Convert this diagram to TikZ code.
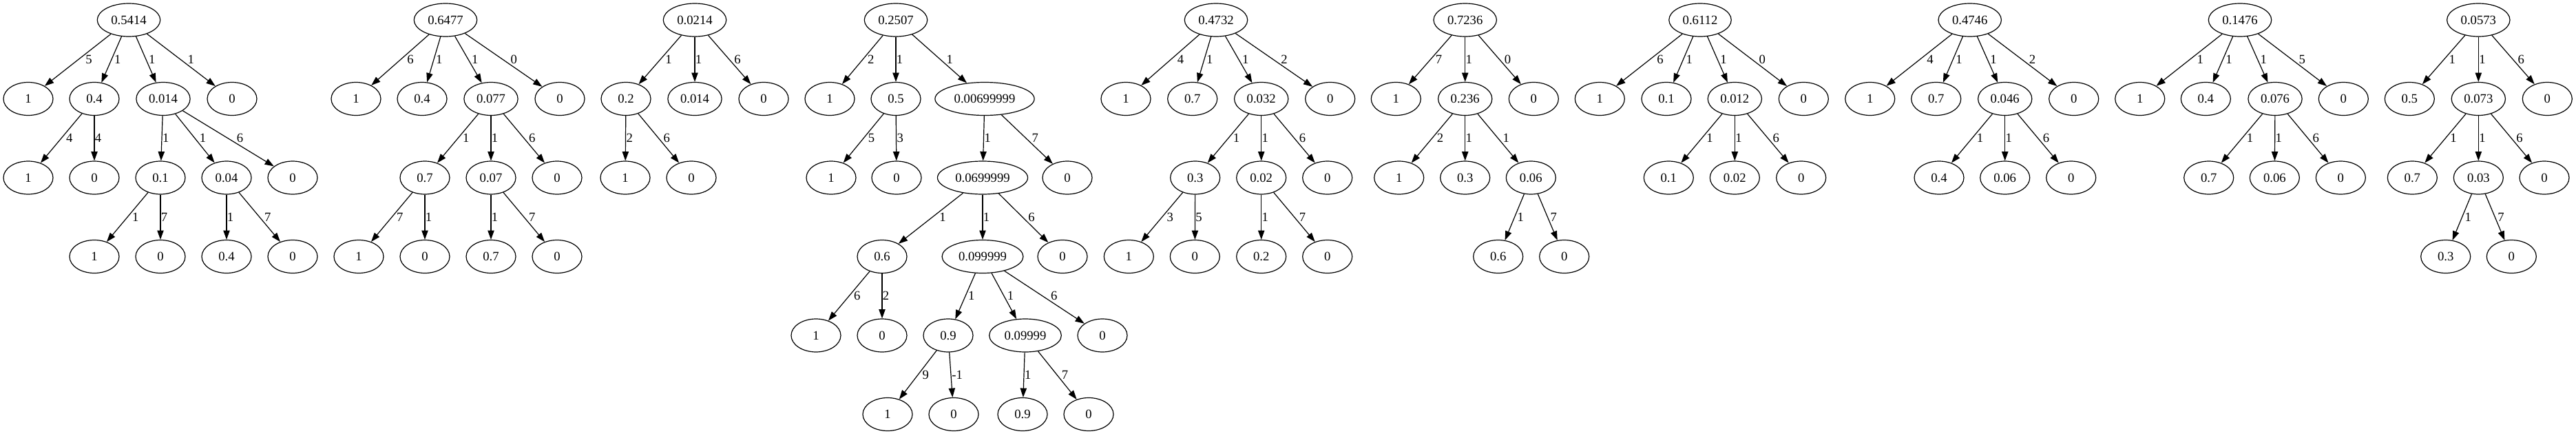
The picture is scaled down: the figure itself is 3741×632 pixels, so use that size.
\documentclass[tikz,border=0pt]{standalone}
\usepackage{fontspec}
\setmainfont{Liberation Serif}
\usetikzlibrary{shapes.geometric,arrows.meta,calc}
\newdimen\edgax \newdimen\edgay \newdimen\edgbx \newdimen\edgby
\tikzset{
  nd/.style={ellipse, draw, line width=0.9pt, minimum width=54pt, minimum height=36pt,
    inner xsep=5pt, inner ysep=0pt, font=\fontsize{14pt}{16pt}\selectfont},
  edgeline/.style={line width=0.9pt, -{Triangle[length=10pt,width=7pt]}},
  elabel/.style={anchor=west, inner sep=0.5pt, font=\fontsize{14pt}{16pt}\selectfont}
}
\newcommand\edg[3]{%
  \draw[edgeline] (#1) -- (#2);
  \pgfextractx{\edgax}{\pgfpointanchor{#1}{center}}%
  \pgfextracty{\edgay}{\pgfpointanchor{#1}{center}}%
  \pgfextractx{\edgbx}{\pgfpointanchor{#2}{center}}%
  \pgfextracty{\edgby}{\pgfpointanchor{#2}{center}}%
  \pgfmathsetlengthmacro\edgsh{5.5*abs(\edgbx-\edgax)/abs(\edgby-\edgay)}%
  \node[elabel, xshift=\edgsh] at ($(#1)!0.5!(#2)$) {#3};
}
\def\RA{29}\def\RB{143.5}\def\RC{258}\def\RD{372.5}\def\RE{487}\def\RF{601.5}
\begin{document}
\begin{tikzpicture}[x=0.75pt, y=-0.75pt]
\useasboundingbox (0,0) rectangle (3741,632);
% Tree 1
\node[nd] (a0) at (187,\RA) {0.5414};
\node[nd] (a1) at (41,\RB) {1};
\node[nd] (a2) at (137,\RB) {0.4};
\node[nd] (a3) at (237,\RB) {0.014};
\node[nd] (a4) at (337,\RB) {0};
\node[nd] (a21) at (41,\RC) {1};
\node[nd] (a22) at (137,\RC) {0};
\node[nd] (a31) at (233,\RC) {0.1};
\node[nd] (a32) at (329,\RC) {0.04};
\node[nd] (a33) at (425,\RC) {0};
\node[nd] (a311) at (137,\RD) {1};
\node[nd] (a312) at (233,\RD) {0};
\node[nd] (a321) at (329,\RD) {0.4};
\node[nd] (a322) at (425,\RD) {0};
\edg{a0}{a1}{5}\edg{a0}{a2}{1}\edg{a0}{a3}{1}\edg{a0}{a4}{1}
\edg{a2}{a21}{4}\edg{a2}{a22}{4}
\edg{a3}{a31}{1}\edg{a3}{a32}{1}\edg{a3}{a33}{6}
\edg{a31}{a311}{1}\edg{a31}{a312}{7}
\edg{a32}{a321}{1}\edg{a32}{a322}{7}
% Tree 2
\node[nd] (b0) at (647,\RA) {0.6477};
\node[nd] (b1) at (517,\RB) {1};
\node[nd] (b2) at (613,\RB) {0.4};
\node[nd] (b3) at (713,\RB) {0.077};
\node[nd] (b4) at (813,\RB) {0};
\node[nd] (b31) at (617,\RC) {0.7};
\node[nd] (b32) at (713,\RC) {0.07};
\node[nd] (b33) at (809,\RC) {0};
\node[nd] (b311) at (521,\RD) {1};
\node[nd] (b312) at (617,\RD) {0};
\node[nd] (b321) at (713,\RD) {0.7};
\node[nd] (b322) at (809,\RD) {0};
\edg{b0}{b1}{6}\edg{b0}{b2}{1}\edg{b0}{b3}{1}\edg{b0}{b4}{0}
\edg{b3}{b31}{1}\edg{b3}{b32}{1}\edg{b3}{b33}{6}
\edg{b31}{b311}{7}\edg{b31}{b312}{1}
\edg{b32}{b321}{1}\edg{b32}{b322}{7}
% Tree 3
\node[nd] (c0) at (1009,\RA) {0.0214};
\node[nd] (c1) at (909,\RB) {0.2};
\node[nd] (c2) at (1009,\RB) {0.014};
\node[nd] (c3) at (1109,\RB) {0};
\node[nd] (c11) at (908,\RC) {1};
\node[nd] (c12) at (1004,\RC) {0};
\edg{c0}{c1}{1}\edg{c0}{c2}{1}\edg{c0}{c3}{6}
\edg{c1}{c11}{2}\edg{c1}{c12}{6}
% Tree 4
\node[nd] (d0) at (1301,\RA) {0.2507};
\node[nd] (d1) at (1205,\RB) {1};
\node[nd] (d2) at (1301,\RB) {0.5};
\node[nd] (d3) at (1430,\RB) {0.00699999};
\node[nd] (d21) at (1207,\RC) {1};
\node[nd] (d22) at (1302,\RC) {0};
\node[nd] (d31) at (1427,\RC) {0.0699999};
\node[nd] (d32) at (1550,\RC) {0};
\node[nd] (d311) at (1281,\RD) {0.6};
\node[nd] (d312) at (1427,\RD) {0.099999};
\node[nd] (d313) at (1543,\RD) {0};
\node[nd] (d3111) at (1185,\RE) {1};
\node[nd] (d3112) at (1281,\RE) {0};
\node[nd] (d3121) at (1377,\RE) {0.9};
\node[nd] (d3122) at (1489,\RE) {0.09999};
\node[nd] (d3123) at (1601,\RE) {0};
\node[nd] (d31211) at (1289,\RF) {1};
\node[nd] (d31212) at (1385,\RF) {0};
\node[nd] (d31221) at (1485,\RF) {0.9};
\node[nd] (d31222) at (1581,\RF) {0};
\edg{d0}{d1}{2}\edg{d0}{d2}{1}\edg{d0}{d3}{1}
\edg{d2}{d21}{5}\edg{d2}{d22}{3}
\edg{d3}{d31}{1}\edg{d3}{d32}{7}
\edg{d31}{d311}{1}\edg{d31}{d312}{1}\edg{d31}{d313}{6}
\edg{d311}{d3111}{6}\edg{d311}{d3112}{2}
\edg{d312}{d3121}{1}\edg{d312}{d3122}{1}\edg{d312}{d3123}{6}
\edg{d3121}{d31211}{9}\edg{d3121}{d31212}{-1}
\edg{d3122}{d31221}{1}\edg{d3122}{d31222}{7}
% Tree 5
\node[nd] (e0) at (1766,\RA) {0.4732};
\node[nd] (e1) at (1635,\RB) {1};
\node[nd] (e2) at (1731.7,\RB) {0.7};
\node[nd] (e3) at (1831.7,\RB) {0.032};
\node[nd] (e4) at (1931.7,\RB) {0};
\node[nd] (e31) at (1735.7,\RC) {0.3};
\node[nd] (e32) at (1831.7,\RC) {0.02};
\node[nd] (e33) at (1927.7,\RC) {0};
\node[nd] (e311) at (1639.3,\RD) {1};
\node[nd] (e312) at (1735.3,\RD) {0};
\node[nd] (e321) at (1831.7,\RD) {0.2};
\node[nd] (e322) at (1927.7,\RD) {0};
\edg{e0}{e1}{4}\edg{e0}{e2}{1}\edg{e0}{e3}{1}\edg{e0}{e4}{2}
\edg{e3}{e31}{1}\edg{e3}{e32}{1}\edg{e3}{e33}{6}
\edg{e31}{e311}{3}\edg{e31}{e312}{5}
\edg{e32}{e321}{1}\edg{e32}{e322}{7}
% Tree 6
\node[nd] (f0) at (2127.7,\RA) {0.7236};
\node[nd] (f1) at (2027.3,\RB) {1};
\node[nd] (f2) at (2127.7,\RB) {0.236};
\node[nd] (f3) at (2227.3,\RB) {0};
\node[nd] (f21) at (2031.7,\RC) {1};
\node[nd] (f22) at (2127.7,\RC) {0.3};
\node[nd] (f23) at (2223.3,\RC) {0.06};
\node[nd] (f231) at (2175.7,\RD) {0.6};
\node[nd] (f232) at (2271.7,\RD) {0};
\edg{f0}{f1}{7}\edg{f0}{f2}{1}\edg{f0}{f3}{0}
\edg{f2}{f21}{2}\edg{f2}{f22}{1}\edg{f2}{f23}{1}
\edg{f23}{f231}{1}\edg{f23}{f232}{7}
% Tree 7
\node[nd] (g0) at (2469,\RA) {0.6112};
\node[nd] (g1) at (2323.3,\RB) {1};
\node[nd] (g2) at (2420,\RB) {0.1};
\node[nd] (g3) at (2519.3,\RB) {0.012};
\node[nd] (g4) at (2619.3,\RB) {0};
\node[nd] (g31) at (2423.3,\RC) {0.1};
\node[nd] (g32) at (2519.3,\RC) {0.02};
\node[nd] (g33) at (2615.7,\RC) {0};
\edg{g0}{g1}{6}\edg{g0}{g2}{1}\edg{g0}{g3}{1}\edg{g0}{g4}{0}
\edg{g3}{g31}{1}\edg{g3}{g32}{1}\edg{g3}{g33}{6}
% Tree 8
\node[nd] (h0) at (2860.7,\RA) {0.4746};
\node[nd] (h1) at (2715.7,\RB) {1};
\node[nd] (h2) at (2811.7,\RB) {0.7};
\node[nd] (h3) at (2911.7,\RB) {0.046};
\node[nd] (h4) at (3011.7,\RB) {0};
\node[nd] (h31) at (2816,\RC) {0.4};
\node[nd] (h32) at (2911.7,\RC) {0.06};
\node[nd] (h33) at (3007.7,\RC) {0};
\edg{h0}{h1}{4}\edg{h0}{h2}{1}\edg{h0}{h3}{1}\edg{h0}{h4}{2}
\edg{h3}{h31}{1}\edg{h3}{h32}{1}\edg{h3}{h33}{6}
% Tree 9
\node[nd] (i0) at (3253,\RA) {0.1476};
\node[nd] (i1) at (3107.7,\RB) {1};
\node[nd] (i2) at (3203.3,\RB) {0.4};
\node[nd] (i3) at (3304,\RB) {0.076};
\node[nd] (i4) at (3403.3,\RB) {0};
\node[nd] (i31) at (3207.7,\RC) {0.7};
\node[nd] (i32) at (3303.3,\RC) {0.06};
\node[nd] (i33) at (3399.3,\RC) {0};
\edg{i0}{i1}{1}\edg{i0}{i2}{1}\edg{i0}{i3}{1}\edg{i0}{i4}{5}
\edg{i3}{i31}{1}\edg{i3}{i32}{1}\edg{i3}{i33}{6}
% Tree 10
\node[nd] (j0) at (3599.3,\RA) {0.0573};
\node[nd] (j1) at (3499.3,\RB) {0.5};
\node[nd] (j2) at (3599.3,\RB) {0.073};
\node[nd] (j3) at (3699.3,\RB) {0};
\node[nd] (j21) at (3503.3,\RC) {0.7};
\node[nd] (j22) at (3599.3,\RC) {0.03};
\node[nd] (j23) at (3695,\RC) {0};
\node[nd] (j221) at (3551.7,\RD) {0.3};
\node[nd] (j222) at (3647.3,\RD) {0};
\edg{j0}{j1}{1}\edg{j0}{j2}{1}\edg{j0}{j3}{6}
\edg{j2}{j21}{1}\edg{j2}{j22}{1}\edg{j2}{j23}{6}
\edg{j22}{j221}{1}\edg{j22}{j222}{7}
\end{tikzpicture}
\end{document}
